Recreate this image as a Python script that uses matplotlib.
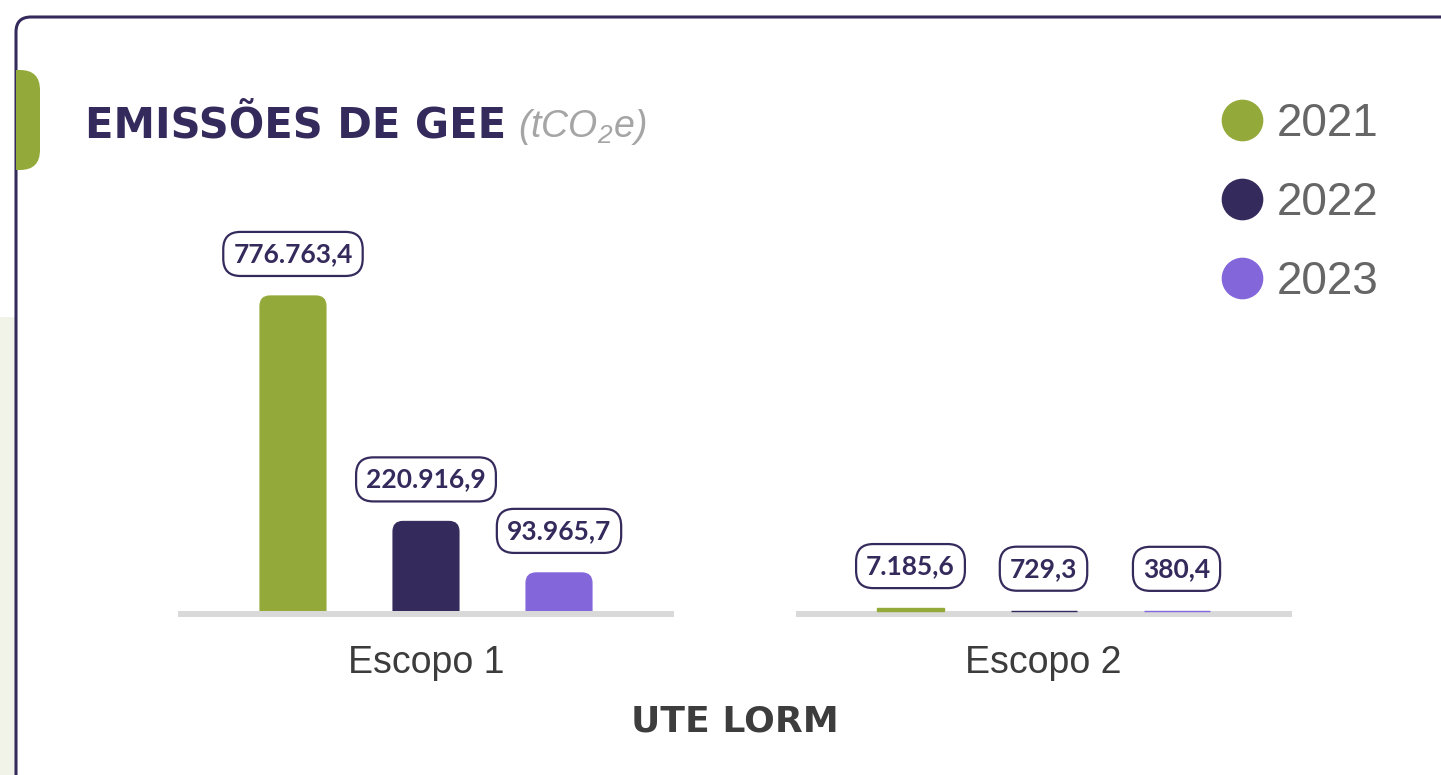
import matplotlib.pyplot as plt
from matplotlib.patches import FancyBboxPatch, Rectangle, BoxStyle
from matplotlib.lines import Line2D
from matplotlib.transforms import Bbox, TransformedBbox, offset_copy

plt.rcParams['mathtext.default'] = 'regular'

# Data (tCO2e)
categories = ["Escopo 1", "Escopo 2"]
years = ["2021", "2022", "2023"]
values_2021 = [776763.4, 7185.6]
values_2022 = [220916.9, 729.3]
values_2023 = [93965.7, 380.4]

colors = ["#93aa3a", "#352a5c", "#8466db"]
dark = "#352a5c"

W, H = 1441, 775
fig = plt.figure(figsize=(W / 100, H / 100), dpi=100)
fig.patch.set_facecolor("white")

# Background shapes
fig.add_artist(Rectangle((0, 0), 40 / W, (H - 317) / H, transform=fig.transFigure,
                         fc="#f2f3e8", ec="none", zorder=0))
card = FancyBboxPatch((16 / W, -0.1), 1.2, (H - 17) / H + 0.1,
                      boxstyle=BoxStyle.Round(pad=0, rounding_size=15 / W),
                      mutation_aspect=W / H, transform=fig.transFigure,
                      fc="white", ec=dark, lw=2.2, zorder=1)
fig.add_artist(card)
tab = FancyBboxPatch((-20 / W, (H - 170) / H), 60 / W, 100 / H,
                     boxstyle=BoxStyle.Round(pad=0, rounding_size=20 / W),
                     mutation_aspect=W / H, transform=fig.transFigure,
                     fc=colors[0], ec="none", zorder=2)
tab.set_clip_box(TransformedBbox(Bbox.from_extents(16 / W, 0, 1, 1), fig.transFigure))
fig.add_artist(tab)

# Title
fig.text(85 / W, 1 - 137 / H, "EMISSÕES DE GEE", fontsize=30, fontweight="bold",
         family="DejaVu Sans", color=dark, va="baseline")
fig.text(518 / W, 1 - 137 / H, "(tCO$_2$e)", fontsize=27, style="italic",
         family="Liberation Sans", color="#a5a5a5", va="baseline")

# Plot area
ax_l, ax_r, ax_b, ax_t = 178, 1292, 611, 180
ax = fig.add_axes([ax_l / W, (H - ax_b) / H, (ax_r - ax_l) / W, (ax_b - ax_t) / H])
ax.set_zorder(3)
ax.set_facecolor("none")
for s in ax.spines.values():
    s.set_visible(False)

xlim = (-0.4016, 1.4024)
y_top = 1.368 * max(values_2021)
ax.set_xlim(*xlim)
ax.set_ylim(0, y_top)
ax.set_yticks([])

xpp = (xlim[1] - xlim[0]) / (ax_r - ax_l)
ypp = y_top / (ax_b - ax_t)
aspect = ypp / xpp

offsets = [-0.2154, 0.0, 0.2154]
bar_w = 0.1069
r_px = 10

def fmt(v):
    return f"{v:,.1f}".replace(",", "X").replace(".", ",").replace("X", ".")

for values, color, off in zip([values_2021, values_2022, values_2023], colors, offsets):
    for i, v in enumerate(values):
        x0 = i + off - bar_w / 2
        if v / ypp > r_px:
            bar = FancyBboxPatch((x0, -r_px * ypp), bar_w, v + r_px * ypp,
                                 boxstyle=BoxStyle.Round(pad=0, rounding_size=r_px * xpp),
                                 mutation_aspect=aspect, fc=color, ec=color, lw=0.8, zorder=2)
        else:
            bar = Rectangle((x0, 0), bar_w, v, fc=color, ec=color, lw=1.0,
                            zorder=2, clip_on=False)
        ax.add_patch(bar)
        ax.annotate(fmt(v), xy=(i + off, v), xytext=(0, 42), textcoords="offset pixels",
                    ha="center", va="center", fontsize=19, fontweight="bold",
                    family="Lato", color=dark, annotation_clip=False, zorder=4,
                    bbox=dict(boxstyle="round,pad=0.38,rounding_size=0.65",
                              fc="white", ec=dark, lw=1.6))

# Baselines under each group
base_tr = offset_copy(ax.transData, fig=fig, y=-3, units="dots")
for i in range(len(categories)):
    ax.plot([i + xlim[0], i - xlim[0]], [0, 0], color="#d9d9d9", lw=6 * 0.72,
            solid_capstyle="butt", clip_on=False, transform=base_tr, zorder=1)

ax.set_xticks(range(len(categories)))
ax.set_xticklabels(categories, fontsize=27, color="#3c3c3c", family="Liberation Sans")
ax.tick_params(axis="x", length=0, pad=24.5)
ax.set_xlabel("UTE LORM", fontsize=26, fontweight="bold", family="DejaVu Sans",
              color="#3d3d3d", labelpad=17)

# Legend
handles = [Line2D([], [], marker="o", ls="none", ms=29, mfc=c, mec=c) for c in colors]
leg = fig.legend(handles, years, loc="upper left", bbox_to_anchor=(1219 / W, 1 - 102 / H),
                 frameon=False, prop={"family": "Liberation Sans", "size": 33},
                 labelcolor="#666666", handlelength=1.0, handletextpad=0.26,
                 labelspacing=0.76, borderpad=0, borderaxespad=0)
leg.set_zorder(5)

fig.savefig("out.png", dpi=100)
